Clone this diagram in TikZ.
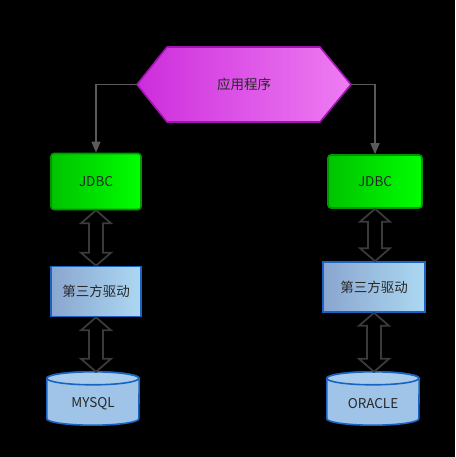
\documentclass[tikz,border=0pt]{standalone}
\usepackage{fontspec}
\setmainfont{Noto Sans CJK SC}
\usetikzlibrary{arrows.meta,calc}
\definecolor{txt}{RGB}{40,40,40}
\definecolor{conn}{RGB}{90,90,90}
\definecolor{dblc}{RGB}{58,58,58}
\definecolor{hexL}{RGB}{205,45,220}
\definecolor{hexR}{RGB}{238,125,242}
\definecolor{hexB}{RGB}{160,20,175}
\definecolor{grL}{RGB}{0,195,0}
\definecolor{grR}{RGB}{0,255,0}
\definecolor{grB}{RGB}{0,150,0}
\definecolor{drL}{RGB}{138,166,206}
\definecolor{drR}{RGB}{172,216,242}
\definecolor{blB}{RGB}{25,100,195}
\definecolor{cyF}{RGB}{160,196,232}
\definecolor{cyT}{RGB}{170,204,236}
\tikzset{
  lbl/.style={font=\fontsize{13.5}{15}\selectfont, text=txt, inner sep=0pt},
  jdbcbox/.style={lbl, draw=grB, line width=1.6pt, rounded corners=3pt,
    left color=grL, right color=grR, minimum width=90pt, minimum height=56pt},
  drvbox/.style={lbl, draw=blB, line width=1.6pt,
    left color=drL, right color=drR, minimum width=90pt, minimum height=50pt},
  dbbox/.style={lbl, minimum width=92pt, minimum height=53pt},
  conn/.style={draw=conn, line width=1.4pt, -{Triangle[width=9pt,length=11pt]}},
  dblarr/.style={draw=dblc, line width=1.8pt, line join=miter},
  cylline/.style={draw=blB, line width=1.6pt, fill=cyF},
}
\newcommand{\dbl}[2]{%
  \path[dblarr] let \p1=(#1.south), \p2=(#2.north) in
   (\x1,\y1) -- (\x1+15pt,\y1-13pt) -- (\x1+7pt,\y1-13pt) -- (\x1+7pt,\y2+13pt)
   -- (\x1+15pt,\y2+13pt) -- (\x1,\y2) -- (\x1-15pt,\y2+13pt) -- (\x1-7pt,\y2+13pt)
   -- (\x1-7pt,\y1-13pt) -- (\x1-15pt,\y1-13pt) -- cycle;}
\newcommand{\cyl}[1]{%
  \path[cylline] ($(#1.north west)+(0,6.5)$) -- ($(#1.south west)+(0,-6.5)$)
    arc(180:0:46 and 6.5) -- ($(#1.north east)+(0,6.5)$)
    arc(0:-180:46 and 6.5) -- cycle;
  \path[draw=blB, line width=1.6pt, fill=cyT] ($(#1.north west)+(0,6.5)$)
    arc(180:-180:46 and 6.5);}
\begin{document}
\begin{tikzpicture}[x=1pt,y=-1pt]
\fill[black] (0,0) rectangle (455,457);
\useasboundingbox (0,0) rectangle (455,457);
% application hexagon
\coordinate (hl) at (137,84.5);
\coordinate (hr) at (351,84.5);
\shade[left color=hexL, right color=hexR, draw=hexB, line width=1.6pt, line join=round]
  (hl) -- (167,47) -- (320,47) -- (hr) -- (320,122) -- (167,122) -- cycle;
\node[lbl] (app) at (244,84.5) {应用程序};
% left column
\node[jdbcbox] (j1) at (96,181.5) {JDBC};
\node[drvbox] (d1) at (96,291.5) {第三方驱动};
\node[dbbox] (m1) at (93,398.5) {};
\cyl{m1}
\node[lbl] at ($(m1.center)+(0,5)$) {MYSQL};
% right column
\node[jdbcbox, minimum width=94pt, minimum height=53pt] (j2) at (375,181.5) {JDBC};
\node[drvbox, minimum width=102pt] (d2) at (374,287) {第三方驱动};
\node[dbbox] (m2) at (373,398.5) {};
\cyl{m2}
\node[lbl] at ($(m2.center)+(0,5)$) {ORACLE};
% connectors
\draw[conn] (hl) -| (j1.north);
\draw[conn] (hr) -| (j2.north);
\dbl{j1}{d1}
\dbl{d1}{m1}
\dbl{j2}{d2}
\dbl{d2}{m2}
\end{tikzpicture}
\end{document}
